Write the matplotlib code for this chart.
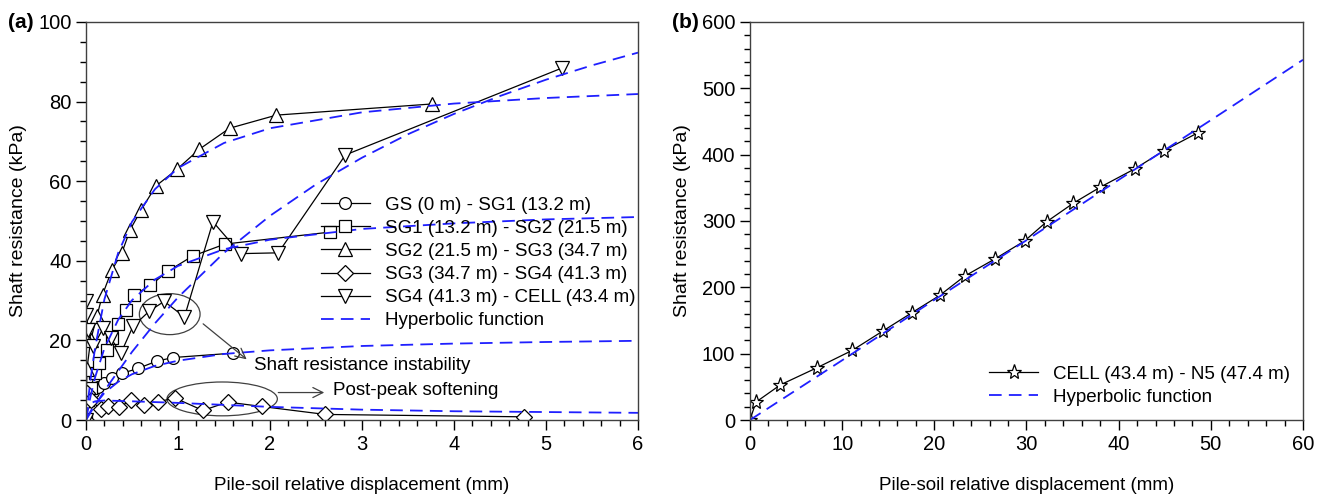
import numpy as np
import matplotlib.pyplot as plt
from matplotlib.patches import Ellipse
from matplotlib.ticker import MultipleLocator

plt.rcParams['font.family'] = ['Liberation Sans', 'DejaVu Sans']
plt.rcParams['font.size'] = 13

# ---- panel (a) measured data ----
gs_x = [0, 0.02, 0.08, 0.13, 0.20, 0.28, 0.39, 0.57, 0.77, 0.95, 1.60]
gs_y = [0, 5.8, 7.0, 8.2, 9.2, 10.6, 11.7, 13.0, 14.8, 15.7, 16.8]

sg1_x = [0, 0.02, 0.05, 0.10, 0.14, 0.23, 0.28, 0.35, 0.43, 0.52, 0.70, 0.89, 1.16, 1.51, 2.65]
sg1_y = [0, 5.0, 8.0, 11.8, 14.3, 17.6, 20.6, 24.0, 27.6, 31.4, 33.8, 37.4, 41.2, 44.2, 47.2]

sg2_x = [0, 0.01, 0.05, 0.12, 0.18, 0.28, 0.39, 0.48, 0.60, 0.76, 0.99, 1.23, 1.56, 2.07, 3.76]
sg2_y = [0, 12.8, 20.0, 26.2, 31.5, 37.6, 42.0, 47.8, 52.8, 58.8, 63.0, 68.0, 73.3, 76.6, 79.4]

sg3_x = [0, 0, 0.01, 0.05, 0.16, 0.24, 0.36, 0.49, 0.63, 0.78, 0.97, 1.27, 1.54, 1.91, 2.60, 4.76]
sg3_y = [0, 4.5, 6.8, 5.0, 2.7, 3.5, 3.2, 5.0, 3.8, 4.6, 5.5, 2.4, 4.5, 3.4, 1.4, 0.8]

sg4_x = [0, 0, 0, 0.02, 0.08, 0.19, 0.27, 0.38, 0.51, 0.69, 0.85, 1.07, 1.38, 1.68, 2.09, 2.82, 5.17]
sg4_y = [0, 26.4, 30.0, 22.6, 18.5, 23.2, 20.5, 16.8, 23.5, 27.4, 29.8, 25.9, 49.8, 41.8, 42.0, 66.6, 88.4]

# hyperbolic fits
hyp_s = [0, 0.02, 0.05, 0.1, 0.2, 0.35, 0.5, 0.75, 1, 1.5, 2, 3, 4, 5, 6]
hyp_gs = [0, 1.0, 2.2, 4.0, 6.8, 9.6, 11.5, 13.6, 14.9, 16.6, 17.5, 18.6, 19.2, 19.6, 19.9]
hyp_sg1 = [0, 2.6, 6.0, 10.8, 18.0, 25.2, 30.1, 35.3, 38.7, 42.9, 45.3, 48.0, 49.4, 50.4, 51.0]
hyp_sg2 = [0, 4.4, 10.3, 18.3, 30.3, 42.0, 49.8, 58.0, 63.3, 69.6, 73.3, 77.3, 79.5, 80.9, 81.9]
hyp_sg3 = [0, 3.0, 4.2, 4.7, 4.9, 4.8, 4.7, 4.5, 4.3, 3.8, 3.3, 2.6, 2.2, 2.0, 1.8]
hyp4_s = [0, 0.1, 0.25, 0.5, 0.75, 1, 1.5, 2, 2.5, 3, 3.5, 4, 4.5, 5, 5.5, 6]
hyp_sg4 = [0, 3.8, 9.0, 17.1, 24.3, 30.8, 42.0, 51.3, 59.2, 65.9, 71.8, 76.9, 81.4, 85.5, 89.1, 92.3]

labels_a = ['GS (0 m) - SG1 (13.2 m)', 'SG1 (13.2 m) - SG2 (21.5 m)',
            'SG2 (21.5 m) - SG3 (34.7 m)', 'SG3 (34.7 m) - SG4 (41.3 m)',
            'SG4 (41.3 m) - CELL (43.4 m)']

# ---- panel (b) measured data ----
cell_x = [0, 0.65, 3.3, 7.3, 11.1, 14.4, 17.6, 20.6, 23.3, 26.6, 29.8, 32.2, 35.1, 38.0, 41.8, 44.9, 48.6]
cell_y = [0, 27, 53, 79, 105, 134, 162, 188, 217, 243, 270, 299, 327, 351, 379, 406, 433]
hypb_s = [0, 10, 20, 30, 40, 50, 60]
hypb_y = [0, 90, 181, 271, 362, 452, 543]

blue = '#1f1fff'
mk = dict(color='black', lw=0.9, mfc='white', mec='black', mew=0.9)


def style_axes(ax):
    for s in ax.spines.values():
        s.set_color('#404040')
        s.set_linewidth(1.0)
    ax.tick_params(which='both', direction='out', top=False, right=False, labelsize=14.5)
    ax.tick_params(which='major', length=7, width=1)
    ax.tick_params(which='minor', length=4, width=1)


fig = plt.figure(figsize=(13.25, 4.95), dpi=100)
ax1 = fig.add_axes([0.0649, 0.1515, 0.4166, 0.8041])
ax2 = fig.add_axes([0.566, 0.1515, 0.4174, 0.8041])

series = [(gs_x, gs_y, 'o', 8.5), (sg1_x, sg1_y, 's', 8.5), (sg2_x, sg2_y, '^', 9.5),
          (sg3_x, sg3_y, 'D', 8), (sg4_x, sg4_y, 'v', 9.5)]
for (x, y, m, ms), lab in zip(series, labels_a):
    ax1.plot(x, y, marker=m, ms=ms, label=lab, **mk)

dash = dict(color=blue, lw=1.3, dashes=(7, 4))
ax1.plot(hyp_s, hyp_gs, label='Hyperbolic function', **dash)
ax1.plot(hyp_s, hyp_sg1, **dash)
ax1.plot(hyp_s, hyp_sg2, **dash)
ax1.plot(hyp_s, hyp_sg3, **dash)
ax1.plot(hyp4_s, hyp_sg4, **dash)

# annotations
ax1.add_patch(Ellipse((0.91, 26.6), 0.66, 10.3, fill=False, ec='#404040', lw=0.9))
ax1.add_patch(Ellipse((1.48, 5.3), 1.2, 8.5, fill=False, ec='#404040', lw=0.9))
ax1.annotate('', xy=(1.77, 14.8), xytext=(1.25, 24.6),
             arrowprops=dict(arrowstyle='->', color='#404040', lw=0.9, mutation_scale=18))
ax1.text(1.83, 13.8, 'Shaft resistance instability', va='center', ha='left', fontsize=13.5)
ax1.annotate('', xy=(2.62, 6.9), xytext=(2.06, 6.9),
             arrowprops=dict(arrowstyle='->', color='#404040', lw=0.9, mutation_scale=18))
ax1.text(2.68, 7.4, 'Post-peak softening', va='center', ha='left', fontsize=13.5)

ax1.set_xlim(0, 6)
ax1.set_ylim(0, 100)
ax1.xaxis.set_major_locator(MultipleLocator(1))
ax1.xaxis.set_minor_locator(MultipleLocator(0.2))
ax1.yaxis.set_major_locator(MultipleLocator(20))
ax1.yaxis.set_minor_locator(MultipleLocator(5))
ax1.set_xlabel('Pile-soil relative displacement (mm)', labelpad=17, fontsize=13.5)
ax1.set_ylabel('Shaft resistance (kPa)', labelpad=8, fontsize=14)
style_axes(ax1)
ax1.legend(loc='upper left', bbox_to_anchor=(0.412, 0.58), frameon=False, fontsize=13.5,
           handlelength=2.6, handletextpad=0.8, labelspacing=0.32, borderaxespad=0)
fig.text(0.006, 0.955, '(a)', fontweight='bold', fontsize=15, va='center')

ax2.plot(cell_x, cell_y, marker='*', ms=11, label='CELL (43.4 m) - N5 (47.4 m)', **mk)
ax2.plot(hypb_s, hypb_y, label='Hyperbolic function', **dash)
ax2.set_xlim(0, 60)
ax2.set_ylim(0, 600)
ax2.xaxis.set_major_locator(MultipleLocator(10))
ax2.xaxis.set_minor_locator(MultipleLocator(2))
ax2.yaxis.set_major_locator(MultipleLocator(100))
ax2.yaxis.set_minor_locator(MultipleLocator(20))
ax2.set_xlabel('Pile-soil relative displacement (mm)', labelpad=17, fontsize=13.5)
ax2.set_ylabel('Shaft resistance (kPa)', labelpad=8, fontsize=14)
style_axes(ax2)
ax2.legend(loc='lower right', bbox_to_anchor=(0.99, 0.017), frameon=False, fontsize=13.5,
           handlelength=2.6, handletextpad=0.8, labelspacing=0.32, borderaxespad=0)
fig.text(0.507, 0.955, '(b)', fontweight='bold', fontsize=15, va='center')

fig.savefig('out.png', dpi=100)
